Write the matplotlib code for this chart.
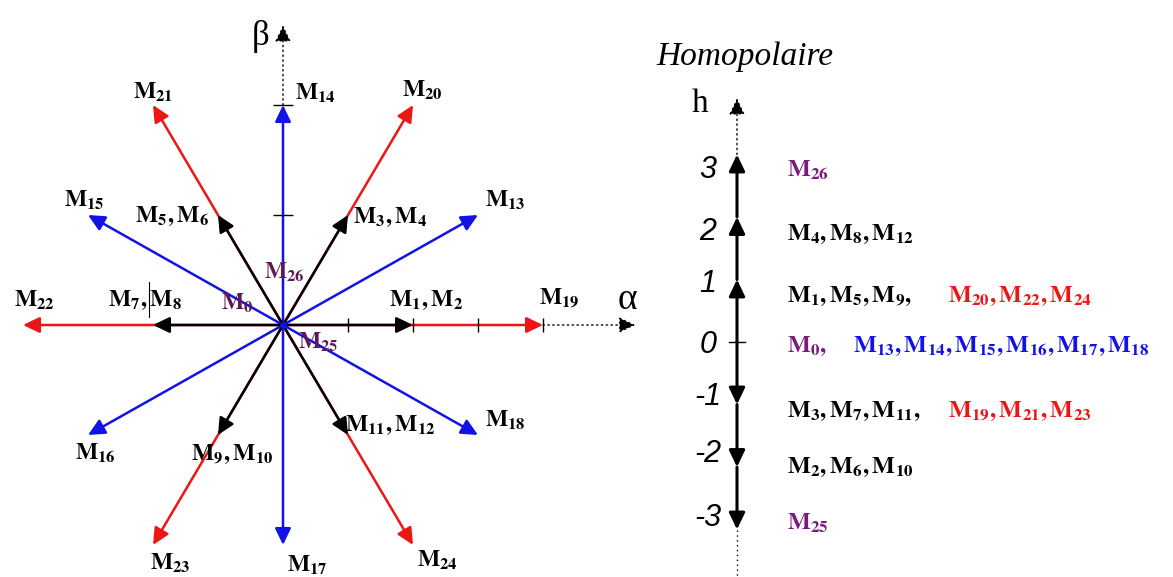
import numpy as np
import matplotlib
matplotlib.use("Agg")
import matplotlib.pyplot as plt

plt.rcParams['mathtext.fontset'] = 'stix'

# --- space vector data (alpha-beta plane) ---
small_angles = [0, 60, 120, 180, 240, 300]
small_mag = 2.0
small_labels = ['M_1,M_2', 'M_3,M_4', 'M_5,M_6', 'M_7,M_8', 'M_9,M_{10}', 'M_{11},M_{12}']
small_label_pos = [(2.2, 0.39), (1.65, 1.70), (-1.71, 1.72), (-2.12, 0.39), (-0.78, -2.03), (1.65, -1.57)]

medium_angles = [30, 90, 150, 210, 270, 330]
medium_mag = 2 * np.sqrt(3)
medium_labels = ['M_{13}', 'M_{14}', 'M_{15}', 'M_{16}', 'M_{17}', 'M_{18}']
medium_label_pos = [(3.42, 1.97), (0.5, 3.65), (-3.06, 1.97), (-2.88, -2.02), (0.38, -3.78), (3.42, -1.5)]

large_angles = [0, 60, 120, 180, 240, 300]
large_mag = 4.0
large_labels = ['M_{19}', 'M_{20}', 'M_{21}', 'M_{22}', 'M_{23}', 'M_{24}']
large_label_pos = [(4.25, 0.43), (2.14, 3.70), (-2.0, 3.67), (-3.82, 0.39), (-1.74, -3.75), (2.37, -3.70)]

zero_labels = ['M_0', 'M_{25}', 'M_{26}']
zero_label_pos = [(-0.71, 0.35), (0.54, -0.27), (0.02, 0.83)]

alpha_ticks = [1, 2, 3, 4]
beta_ticks = [np.sqrt(3), 2 * np.sqrt(3)]

# --- homopolar axis data ---
h_levels = [3, 2, 1, 0, -1, -2, -3]
h_tick_text = ['3', '2', '1', '0', '-1', '-2', '-3']
h_tick_pos = [2.76, 1.76, 0.92, -0.05, -0.88, -1.8, -2.82]
h_label_pos = [2.76, 1.73, 0.73, -0.06, -1.1, -2.0, -2.89]
h_black = ['M_{26}', 'M_4,M_8,M_{12}', 'M_1,M_5,M_9,', 'M_0,', 'M_3,M_7,M_{11},', 'M_2,M_6,M_{10}', 'M_{25}']
h_black_color = ['purple', 'k', 'k', 'purple', 'k', 'k', 'purple']
h_second = ['', '', 'M_{20},M_{22},M_{24}', 'M_{13},M_{14},M_{15},M_{16},M_{17},M_{18}',
            'M_{19},M_{21},M_{23}', '', '']
h_second_color = ['k', 'k', 'red', 'blue', 'red', 'k', 'k']

RED = '#ee1515'
BLUE = '#1212e6'
PURPLE_L = '#5e1a58'
PURPLE_R = '#7a1a7a'
colmap = {'red': RED, 'blue': BLUE, 'purple': PURPLE_R, 'k': 'black'}

fig = plt.figure(figsize=(11.73, 5.77), dpi=100)

# left diagram: origin at pixel (283, 325), 65 px / unit in x, 63.5 px / unit in y
ax = fig.add_axes([0, 0, 1, 1])
ax.set_xlim(-283 / 65, (1173 - 283) / 65)
ax.set_ylim(-252 / 63.5, 325 / 63.5)
ax.axis('off')


def arrow(a, x0, y0, x1, y1, color, lw=1.8, ls='-', z=2):
    a.annotate('', xy=(x1, y1), xytext=(x0, y0),
               arrowprops=dict(arrowstyle='-|>,head_length=0.5,head_width=0.24',
                               color=color, lw=lw, linestyle=ls, mutation_scale=20,
                               shrinkA=0, shrinkB=0), zorder=z)


def polar(mag, ang):
    r = np.deg2rad(ang)
    return mag * np.cos(r), mag * np.sin(r)


lbl = dict(fontsize=17, ha='center', va='center')

# axes (dotted extensions)
arrow(ax, 4, 0, 5.42, 0, 'black', lw=1.0, ls=(0, (1, 2.5)))
arrow(ax, 0, 2 * np.sqrt(3), 0, 4.72, 'black', lw=1.0, ls=(0, (1, 2.5)))
ax.text(5.3, 0.4, 'α', fontsize=27, family='Liberation Serif', ha='center', va='center')
ax.text(-0.35, 4.55, 'β', fontsize=25, family='Liberation Serif', ha='center', va='center')

for ang, (lx, ly), lab in zip(large_angles, large_label_pos, large_labels):
    x, y = polar(large_mag, ang)
    arrow(ax, 0, 0, x, y, RED, z=2)
    ax.text(lx, ly, r'$\mathbf{' + lab + '}$', **lbl)

for ang, (lx, ly), lab in zip(medium_angles, medium_label_pos, medium_labels):
    x, y = polar(medium_mag, ang)
    arrow(ax, 0, 0, x, y, BLUE, z=3)
    ax.text(lx, ly, r'$\mathbf{' + lab + '}$', **lbl)

for ang, (lx, ly), lab in zip(small_angles, small_label_pos, small_labels):
    x, y = polar(small_mag, ang)
    arrow(ax, 0, 0, x, y, 'black', z=4)
    ax.text(lx, ly, r'$\mathbf{' + lab + '}$', **lbl)

for (lx, ly), lab in zip(zero_label_pos, zero_labels):
    ax.text(lx, ly, r'$\mathbf{' + lab + '}$', color=PURPLE_L, **lbl)

ax.plot(alpha_ticks, np.zeros(len(alpha_ticks)), '|', color='black', ms=10, mew=1, zorder=5)
ax.plot(np.zeros(len(beta_ticks)), beta_ticks, '_', color='black', ms=14, mew=1, zorder=5)
ax.plot(0, 0, 'o', color=BLUE, ms=4, zorder=6)
# small cursor mark near M7,M8
ax.plot([-2.06, -2.06], [0.67, 0.12], color='black', lw=0.8)

# right diagram: h = 0 at 235 px from bottom, 62.5 px / unit
ax2 = fig.add_axes([0, 0, 1, 1])
ax2.set_xlim(0, 1173)
ax2.set_ylim(-235 / 62.5, (577 - 235) / 62.5)
ax2.axis('off')
ax2.patch.set_alpha(0)

hx = 737
for a, b in [(0, 1), (1, 2), (2, 3), (0, -1), (-1, -2), (-2, -3)]:
    arrow(ax2, hx, a, hx, b, 'black', lw=2.2)
arrow(ax2, hx, 3, hx, 3.9, 'black', lw=1.0, ls=(0, (1, 2.5)))
ax2.plot([hx, hx], [-3, -3.75], color='black', lw=1.0, ls=(0, (1, 2.5)))
ax2.plot([hx - 8, hx + 8], [0, 0], color='black', lw=1)

ax2.text(700, 3.82, 'h', fontsize=24, family='Liberation Serif', ha='center', va='center')
ax2.text(745, 4.57, 'Homopolaire', fontsize=24, family='Liberation Serif', style='italic',
         ha='center', va='center')

for t, ty, b, bc, s, sc, yy in zip(h_tick_text, h_tick_pos, h_black, h_black_color,
                                   h_second, h_second_color, h_label_pos):
    ax2.text(708, ty, t, fontsize=22, family='Liberation Sans', style='italic',
             ha='center', va='center')
    ax2.text(787, yy, r'$\mathbf{' + b + '}$', fontsize=17.5, color=colmap[bc], ha='left', va='center')
    if s:
        sx = 853 if sc == 'blue' else 948
        ax2.text(sx, yy, r'$\mathbf{' + s + '}$', fontsize=17.5, color=colmap[sc], ha='left', va='center')

fig.savefig('out.png', dpi=100)
